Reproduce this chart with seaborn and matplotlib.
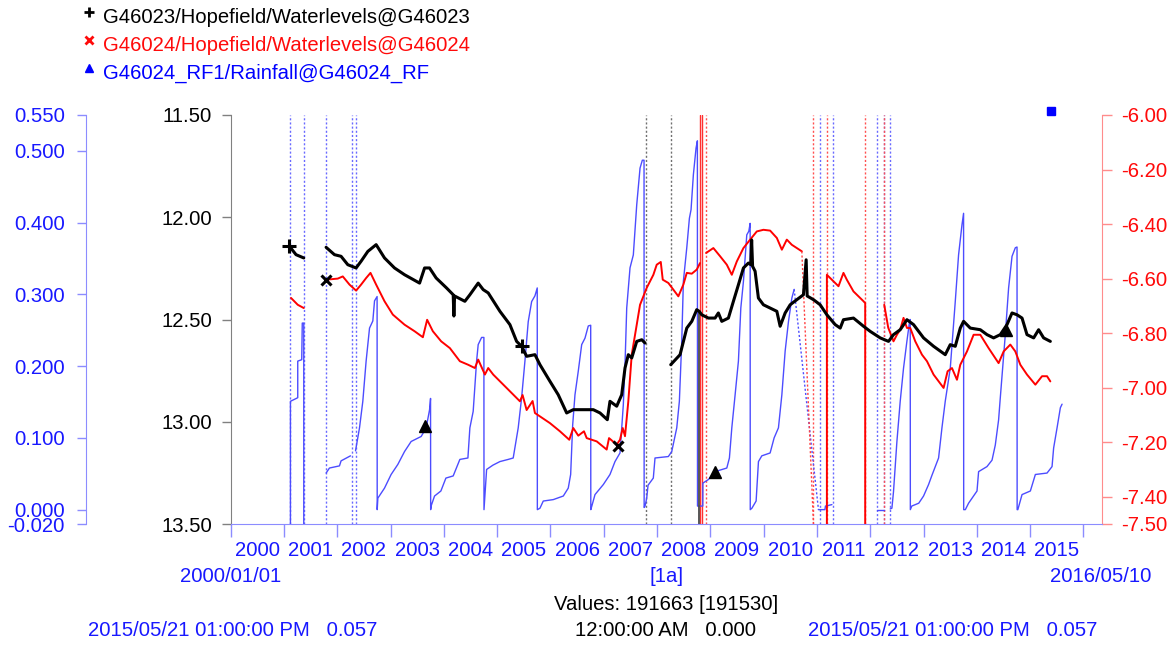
import matplotlib
matplotlib.use('Agg')
import matplotlib.pyplot as plt
from matplotlib.lines import Line2D
from matplotlib.ticker import FixedLocator, FixedFormatter
import seaborn as sns
import pandas as pd

# G46023/Hopefield/Waterlevels (left black axis, inverted), decimal years
black_t1 = [2001.102, 2001.226, 2001.371]
black_v1 = [12.142, 12.183, 12.199]
black_t2 = [2001.790, 2001.947, 2002.071, 2002.197, 2002.353, 2002.447, 2002.573, 2002.729, 2002.886,
            2003.074, 2003.262, 2003.544, 2003.638, 2003.731, 2003.855, 2004.051, 2004.175, 2004.188,
            2004.201, 2004.394, 2004.488, 2004.644, 2004.738, 2004.832, 2005.052, 2005.239, 2005.365,
            2005.459, 2005.553, 2005.709, 2005.803, 2005.990, 2006.146, 2006.304, 2006.428, 2006.616,
            2006.804, 2006.930, 2007.067, 2007.117, 2007.243, 2007.337, 2007.399, 2007.461, 2007.525,
            2007.619, 2007.713, 2007.775]
black_v2 = [12.147, 12.183, 12.191, 12.232, 12.248, 12.215, 12.167, 12.134, 12.199,
            12.248, 12.281, 12.322, 12.248, 12.248, 12.297, 12.346, 12.379, 12.483,
            12.385, 12.411, 12.379, 12.322, 12.354, 12.370, 12.460, 12.525, 12.607,
            12.631, 12.680, 12.672, 12.721, 12.802, 12.868, 12.957, 12.941, 12.941,
            12.941, 12.957, 12.990, 12.900, 12.924, 12.868, 12.737, 12.672, 12.688,
            12.607, 12.599, 12.615]
black_t3 = [2008.257, 2008.432, 2008.558, 2008.652, 2008.745, 2008.790, 2008.839,
            2008.963, 2009.089, 2009.151, 2009.215, 2009.339, 2009.433, 2009.527, 2009.621, 2009.714,
            2009.759, 2009.775, 2009.793, 2009.840, 2009.902, 2009.996, 2010.122, 2010.248, 2010.310,
            2010.404, 2010.498, 2010.623, 2010.747, 2010.798, 2010.817, 2010.935, 2011.061, 2011.187,
            2011.343, 2011.437, 2011.498, 2011.686, 2011.874, 2012.000, 2012.188, 2012.344, 2012.437,
            2012.563, 2012.689, 2012.813, 2013.001, 2013.189, 2013.408, 2013.502, 2013.596, 2013.690,
            2013.752, 2013.878, 2014.066, 2014.191, 2014.315, 2014.441, 2014.567, 2014.661, 2014.755,
            2014.849, 2014.942, 2015.067, 2015.160, 2015.254, 2015.380]
black_v3 = [12.721, 12.672, 12.542, 12.509, 12.452, 12.460, 12.477,
            12.493, 12.493, 12.468, 12.509, 12.493, 12.411, 12.330, 12.248, 12.224,
            12.232, 12.111, 12.240, 12.264, 12.395, 12.428, 12.444, 12.460, 12.533,
            12.468, 12.428, 12.403, 12.379, 12.208, 12.385, 12.403, 12.428, 12.477,
            12.525, 12.542, 12.501, 12.493, 12.533, 12.558, 12.590, 12.607, 12.574,
            12.550, 12.501, 12.525, 12.590, 12.631, 12.672, 12.623, 12.631, 12.542,
            12.509, 12.542, 12.550, 12.574, 12.590, 12.574, 12.525, 12.468, 12.477,
            12.493, 12.574, 12.590, 12.550, 12.590, 12.607]
black_drop_t = [2008.794, 2008.794]
black_drop_v = [12.465, 13.500]

# G46024/Hopefield/Waterlevels (right red axis)
red_t1 = [2001.132, 2001.258, 2001.371]
red_v1 = [-6.671, -6.696, -6.708]
red_t2 = [2001.790, 2002.009, 2002.103, 2002.229, 2002.353, 2002.447, 2002.541, 2002.623, 2002.729,
          2002.886, 2003.042, 2003.262, 2003.450, 2003.606, 2003.686, 2003.793, 2003.949, 2004.113,
          2004.300, 2004.456, 2004.582, 2004.644, 2004.770, 2004.832, 2004.926, 2005.177, 2005.427,
          2005.477, 2005.553, 2005.665, 2005.709, 2005.990, 2006.178, 2006.353, 2006.428, 2006.522,
          2006.629, 2006.680, 2006.868, 2007.055, 2007.099, 2007.243, 2007.305, 2007.356, 2007.399,
          2007.461, 2007.525, 2007.619, 2007.681, 2007.806, 2007.931, 2007.994, 2008.070, 2008.107,
          2008.212, 2008.400, 2008.494, 2008.558, 2008.652, 2008.745, 2008.807]
red_v2 = [-6.604, -6.600, -6.592, -6.622, -6.644, -6.622, -6.598, -6.579, -6.622,
          -6.683, -6.732, -6.769, -6.793, -6.815, -6.751, -6.793, -6.830, -6.855,
          -6.903, -6.916, -6.928, -6.897, -6.952, -6.928, -6.952, -7.001, -7.050,
          -7.027, -7.082, -7.049, -7.093, -7.130, -7.160, -7.191, -7.148, -7.176,
          -7.160, -7.185, -7.197, -7.227, -7.185, -7.209, -7.191, -7.148, -7.178,
          -7.050, -6.879, -6.769, -6.696, -6.634, -6.586, -6.549, -6.539, -6.604,
          -6.616, -6.665, -6.622, -6.579, -6.582, -6.567, -6.543]
red_t3 = [2008.920, 2009.057, 2009.183, 2009.309, 2009.403, 2009.497, 2009.621, 2009.747, 2009.872,
          2009.996, 2010.122, 2010.248, 2010.342, 2010.435, 2010.529, 2010.623, 2010.717]
red_v3 = [-6.506, -6.488, -6.518, -6.549, -6.586, -6.537, -6.488, -6.457, -6.427,
          -6.421, -6.424, -6.451, -6.494, -6.457, -6.476, -6.488, -6.500]
red_t4 = [2011.187, 2011.187, 2011.311, 2011.405, 2011.498, 2011.561, 2011.686, 2011.874, 2011.906, 2011.906]
red_v4 = [-7.500, -6.586, -6.610, -6.628, -6.579, -6.604, -6.647, -6.683, -6.690, -7.500]
red_t5 = [2012.263, 2012.338, 2012.437, 2012.501, 2012.563, 2012.625, 2012.689, 2012.751, 2012.845,
          2012.971, 2013.065, 2013.189, 2013.377, 2013.452, 2013.534, 2013.628, 2013.690, 2013.816,
          2013.940, 2014.066, 2014.222, 2014.409, 2014.504, 2014.629, 2014.723, 2014.817, 2014.942,
          2015.099, 2015.224, 2015.318, 2015.380]
red_v5 = [-6.696, -6.780, -6.830, -6.806, -6.787, -6.744, -6.781, -6.781, -6.830,
          -6.879, -6.903, -6.952, -7.001, -6.940, -6.928, -6.971, -6.916, -6.867,
          -6.806, -6.806, -6.855, -6.910, -6.867, -6.842, -6.867, -6.916, -6.952,
          -6.989, -6.958, -6.958, -6.977]
red_link_t = [2010.717, 2010.935]
red_link_v = [-6.500, -7.500]

# G46024_RF1/Rainfall (far-left blue axis), cumulative per season
blue_t1 = [2001.121, 2001.121, 2001.258, 2001.258, 2001.333, 2001.343, 2001.371, 2001.371]
blue_v1 = [-0.020, 0.151, 0.156, 0.207, 0.209, 0.260, 0.260, -0.020]
blue_t2 = [2001.790, 2001.853, 2002.041, 2002.071, 2002.248]
blue_v2 = [0.051, 0.058, 0.061, 0.068, 0.075]
blue_t3 = [2002.342, 2002.417, 2002.479, 2002.541, 2002.605, 2002.667, 2002.699, 2002.747, 2002.749,
           2002.761, 2002.886, 2003.010, 2003.136, 2003.262, 2003.386, 2003.574, 2003.668, 2003.731,
           2003.750, 2003.752, 2003.765, 2003.825, 2003.944, 2004.038, 2004.175, 2004.300, 2004.451,
           2004.488, 2004.550, 2004.614, 2004.644, 2004.708, 2004.751, 2004.753, 2004.802, 2004.920,
           2005.052, 2005.207, 2005.301, 2005.395, 2005.459, 2005.521, 2005.583, 2005.647, 2005.709,
           2005.752, 2005.754, 2005.803, 2005.865, 2006.053, 2006.241, 2006.334, 2006.379, 2006.417,
           2006.460, 2006.522, 2006.586, 2006.648, 2006.710, 2006.755, 2006.757, 2006.780, 2006.836,
           2006.992, 2007.117, 2007.211, 2007.305, 2007.367, 2007.399, 2007.431, 2007.493, 2007.555,
           2007.619, 2007.681, 2007.724, 2007.756, 2007.758, 2007.775, 2007.806, 2007.831, 2007.930,
           2007.962, 2008.212, 2008.276, 2008.370, 2008.419, 2008.464, 2008.494, 2008.558, 2008.607,
           2008.638, 2008.682, 2008.732, 2008.757, 2008.759, 2008.858, 2008.860, 2008.964, 2009.089,
           2009.309, 2009.358, 2009.403, 2009.465, 2009.527, 2009.572, 2009.621, 2009.684, 2009.722,
           2009.747, 2009.749, 2009.780, 2009.859, 2009.903, 2009.966, 2010.122, 2010.197, 2010.278,
           2010.342, 2010.404, 2010.466, 2010.530, 2010.573]
blue_v3 = [0.082, 0.114, 0.151, 0.207, 0.253, 0.263, 0.291, 0.297, 0.000,
           0.016, 0.030, 0.049, 0.063, 0.081, 0.095, 0.102, 0.114, 0.139,
           0.155, 0.000, 0.006, 0.019, 0.026, 0.044, 0.047, 0.070, 0.072,
           0.114, 0.137, 0.207, 0.230, 0.240, 0.240, 0.000, 0.056, 0.062,
           0.067, 0.070, 0.072, 0.114, 0.156, 0.207, 0.262, 0.290, 0.298,
           0.309, 0.000, 0.002, 0.012, 0.014, 0.019, 0.030, 0.049, 0.118,
           0.160, 0.193, 0.230, 0.239, 0.256, 0.257, 0.000, 0.006, 0.021,
           0.035, 0.049, 0.067, 0.079, 0.146, 0.202, 0.281, 0.337, 0.355,
           0.425, 0.476, 0.487, 0.487, 0.003, 0.005, 0.016, 0.034, 0.044,
           0.072, 0.074, 0.081, 0.114, 0.151, 0.235, 0.318, 0.365, 0.406,
           0.418, 0.467, 0.504, 0.514, 0.005, 0.005, 0.037, 0.042, 0.053,
           0.058, 0.072, 0.114, 0.160, 0.207, 0.281, 0.318, 0.383, 0.388,
           0.399, 0.000, 0.002, 0.012, 0.067, 0.075, 0.079, 0.100, 0.114,
           0.160, 0.221, 0.262, 0.295, 0.307]
blue_t4 = [2011.029, 2011.150, 2011.160, 2011.281]
blue_v4 = [0.000, 0.000, 0.005, 0.007]
blue_t5 = [2012.126, 2012.263]
blue_v5 = [0.000, 0.000]
blue_t6 = [2012.375, 2012.407, 2012.437, 2012.501, 2012.563, 2012.625, 2012.689, 2012.738, 2012.751,
           2012.753, 2012.780, 2012.911, 2013.001, 2013.095, 2013.159, 2013.283, 2013.346, 2013.408,
           2013.502, 2013.596, 2013.658, 2013.722, 2013.752, 2013.754, 2013.785, 2013.846, 2014.004,
           2014.034, 2014.191, 2014.286, 2014.347, 2014.409, 2014.441, 2014.535, 2014.597, 2014.661,
           2014.723, 2014.755, 2014.757, 2014.770, 2014.849, 2015.005, 2015.099, 2015.318, 2015.412,
           2015.442, 2015.506, 2015.568, 2015.600]
blue_v6 = [0.001, 0.002, 0.025, 0.095, 0.151, 0.197, 0.235, 0.262, 0.265,
           0.000, 0.005, 0.009, 0.019, 0.035, 0.048, 0.072, 0.114, 0.151,
           0.197, 0.290, 0.355, 0.397, 0.413, 0.000, 0.000, 0.009, 0.026,
           0.053, 0.060, 0.069, 0.090, 0.125, 0.156, 0.244, 0.309, 0.353,
           0.365, 0.366, 0.000, 0.000, 0.021, 0.026, 0.049, 0.051, 0.060,
           0.086, 0.114, 0.142, 0.147]
blue_link_t = [2010.573, 2011.029]
blue_link_v = [0.307, 0.000]

# gap markers (dates of missing data)
blue_gaps = [2001.121, 2001.371, 2001.790, 2002.267, 2002.342, 2011.061, 2011.305, 2012.126, 2012.263, 2012.376]
black_gaps = [2007.793, 2008.257]
red_gaps = [2008.920, 2010.935, 2011.187, 2011.906, 2012.263]
red_breaks = [2008.807, 2008.839]

# point markers
plus_t, plus_v = [2001.102, 2005.459], [12.142, 12.631]
cross_t, cross_v = [2001.790, 2007.273], [-6.604, -7.215]
tri_t, tri_v = [2003.638, 2009.089, 2014.548], [0.116, 0.053, 0.251]
last_t, last_v = [2015.393], [0.555]

years = list(range(2000, 2017))
black_ticks = [11.5, 12.0, 12.5, 13.0, 13.5]
red_ticks = [-6.0, -6.2, -6.4, -6.6, -6.8, -7.0, -7.2, -7.4, -7.5]
blue_ticks = [0.55, 0.5, 0.4, 0.3, 0.2, 0.1, 0.0, -0.02]

BLUE_TXT = '#1818ff'
BLUE_LN = '#4c4cff'
BLUE_AX = '#8c8cff'
RED_TXT = '#ff0a0a'
RED_AX = '#ff8c8c'
FS = 14.6

W, H = 1176, 655


def frame(segments):
    parts = [pd.DataFrame({'t': t, 'v': v, 'seg': i}) for i, (t, v) in enumerate(segments)]
    return pd.concat(parts, ignore_index=True)


def draw(ax, segments, color, lw, ls='-'):
    sns.lineplot(data=frame(segments), x='t', y='v', units='seg', estimator=None, sort=False,
                 color=color, lw=lw, ls=ls, ax=ax, legend=False)
    ax.set_xlabel('')
    ax.set_ylabel('')


sns.set_style('white')
plt.rcParams['font.family'] = ['Liberation Sans', 'DejaVu Sans']
plt.rcParams['font.size'] = FS

fig = plt.figure(figsize=(W / 100, H / 100), dpi=100)
ax = fig.add_axes([230.7 / W, 1 - 524 / H, (1102.3 - 230.7) / W, (524 - 115) / H])
ax_red = ax.twinx()
ax_blue = ax.twinx()
for a, z in [(ax_blue, 1), (ax_red, 2), (ax, 3)]:
    a.set_zorder(z)
    a.patch.set_visible(False)
    for s in a.spines.values():
        s.set_visible(False)

# gap lines
for d in blue_gaps:
    ax_blue.axvline(d, color='#6a6aff', lw=1, ls=(0, (1.5, 1.5)))
for d in black_gaps:
    ax_blue.axvline(d, color='#707070', lw=1, ls=(0, (1.5, 1.5)))
for d in red_gaps:
    ax_blue.axvline(d, color='#ff5050', lw=1, ls=(0, (1.5, 1.5)))
for d in red_breaks:
    ax_blue.axvline(d, color='#ff3030', lw=1)

draw(ax_blue, [(blue_t1, blue_v1), (blue_t2, blue_v2), (blue_t3, blue_v3),
               (blue_t4, blue_v4), (blue_t5, blue_v5), (blue_t6, blue_v6)], BLUE_LN, 1.0)
draw(ax_blue, [(blue_link_t, blue_link_v)], BLUE_LN, 1.0, ls=(0, (1.5, 1.5)))
draw(ax_red, [(red_t1, red_v1), (red_t2, red_v2), (red_t3, red_v3),
              (red_t4, red_v4), (red_t5, red_v5)], '#ff0000', 1.4)
draw(ax_red, [(red_link_t, red_link_v)], '#ff4040', 1.0, ls=(0, (1.5, 1.5)))
draw(ax, [(black_drop_t, black_drop_v)], '#4a4a4a', 1.3)
draw(ax, [(black_t1, black_v1), (black_t2, black_v2), (black_t3, black_v3)], 'black', 2.2)

ax.plot(plus_t, plus_v, ls='none', marker='+', ms=10, mew=2.2, color='black')
ax_red.plot(cross_t, cross_v, ls='none', marker='x', ms=7, mew=2.2, color='black')
ax_blue.plot(tri_t, tri_v, ls='none', marker='^', ms=8, color='black')
ax_blue.plot(last_t, last_v, ls='none', marker='s', ms=6, color='#0000ff', clip_on=False)

ax.set_xlim(2000, 2016.355)
ax.set_ylim(13.5, 11.5)
ax_red.set_ylim(-7.5, -6.0)
ax_blue.set_ylim(-0.02, 0.55)

# black axis (left of plot)
ax.spines['left'].set_visible(True)
ax.spines['left'].set_color('#808080')
ax.yaxis.set_major_locator(FixedLocator(black_ticks))
ax.yaxis.set_major_formatter(FixedFormatter([f'{v:.2f}' for v in black_ticks]))
ax.tick_params(axis='y', which='major', direction='out', length=6.5, width=1, color='#808080',
               labelcolor='black', labelsize=FS, pad=7, left=True, right=False)

# time axis
ax.spines['bottom'].set_visible(True)
ax.spines['bottom'].set_color(BLUE_AX)
ax.xaxis.set_major_locator(FixedLocator(years))
ax.xaxis.set_major_formatter(FixedFormatter([''] * len(years)))
ax.xaxis.set_minor_locator(FixedLocator([y + 0.5 for y in years[:-1]]))
ax.xaxis.set_minor_formatter(FixedFormatter([str(y) for y in years[:-1]]))
ax.tick_params(axis='x', which='major', direction='out', length=9.4, width=1, color=BLUE_AX, bottom=True)
ax.tick_params(axis='x', which='minor', length=0, labelcolor=BLUE_TXT, labelsize=FS, pad=12.5, bottom=True)

# red axis
ax_red.spines['right'].set_visible(True)
ax_red.spines['right'].set_color(RED_AX)
ax_red.yaxis.set_major_locator(FixedLocator(red_ticks))
ax_red.yaxis.set_major_formatter(FixedFormatter([f'{v:.2f}' for v in red_ticks]))
ax_red.tick_params(axis='y', direction='out', length=7.2, width=1, color=RED_AX,
                   labelcolor=RED_TXT, labelsize=FS, pad=6.6)

# rainfall axis, offset to the far left
ax_blue.spines['left'].set_visible(True)
ax_blue.spines['left'].set_position(('axes', -0.166))
ax_blue.spines['left'].set_color(BLUE_AX)
ax_blue.yaxis.set_ticks_position('left')
ax_blue.yaxis.set_label_position('left')
ax_blue.yaxis.set_major_locator(FixedLocator(blue_ticks))
ax_blue.yaxis.set_major_formatter(FixedFormatter([f'{v:.3f}' for v in blue_ticks]))
ax_blue.tick_params(axis='y', direction='out', length=6.7, width=1, color=BLUE_AX,
                    labelcolor=BLUE_TXT, labelsize=FS, pad=8.7)

# legend at top left
legend_rows = [('+', 'black', 'G46023/Hopefield/Waterlevels@G46023'),
               ('x', RED_TXT, 'G46024/Hopefield/Waterlevels@G46024'),
               ('^', '#0000ff', 'G46024_RF1/Rainfall@G46024_RF')]
for i, (mk, col, label) in enumerate(legend_rows):
    ym = 11.7 + i * 28
    yt = 17.3 + i * 28
    fig.add_artist(Line2D([89.3 / W], [1 - ym / H], marker=mk, ms=6 if mk != '+' else 7,
                          mew=2 if mk != '^' else 1, color=col, ls='none',
                          transform=fig.transFigure))
    fig.text(103.3 / W, 1 - yt / H, label, color=col, fontsize=FS, ha='left', va='center')

# footer texts
fig.text(230.7 / W, 1 - 576.5 / H, '2000/01/01', color=BLUE_TXT, fontsize=FS, ha='center', va='center')
fig.text(666.5 / W, 1 - 576.5 / H, '[1a]', color=BLUE_TXT, fontsize=FS, ha='center', va='center')
fig.text(1101 / W, 1 - 576.5 / H, '2016/05/10', color=BLUE_TXT, fontsize=FS, ha='center', va='center')
fig.text(666.5 / W, 1 - 604 / H, 'Values: 191663 [191530]', color='black', fontsize=FS, ha='center', va='center')
fig.text(88 / W, 1 - 630.7 / H, '2015/05/21 01:00:00 PM   0.057', color=BLUE_TXT, fontsize=FS, ha='left', va='center')
fig.text(575 / W, 1 - 630.7 / H, '12:00:00 AM   0.000', color='black', fontsize=FS, ha='left', va='center')
fig.text(808 / W, 1 - 630.7 / H, '2015/05/21 01:00:00 PM   0.057', color=BLUE_TXT, fontsize=FS, ha='left', va='center')

fig.savefig('out.png', dpi=100, facecolor='white')
plt.close(fig)
